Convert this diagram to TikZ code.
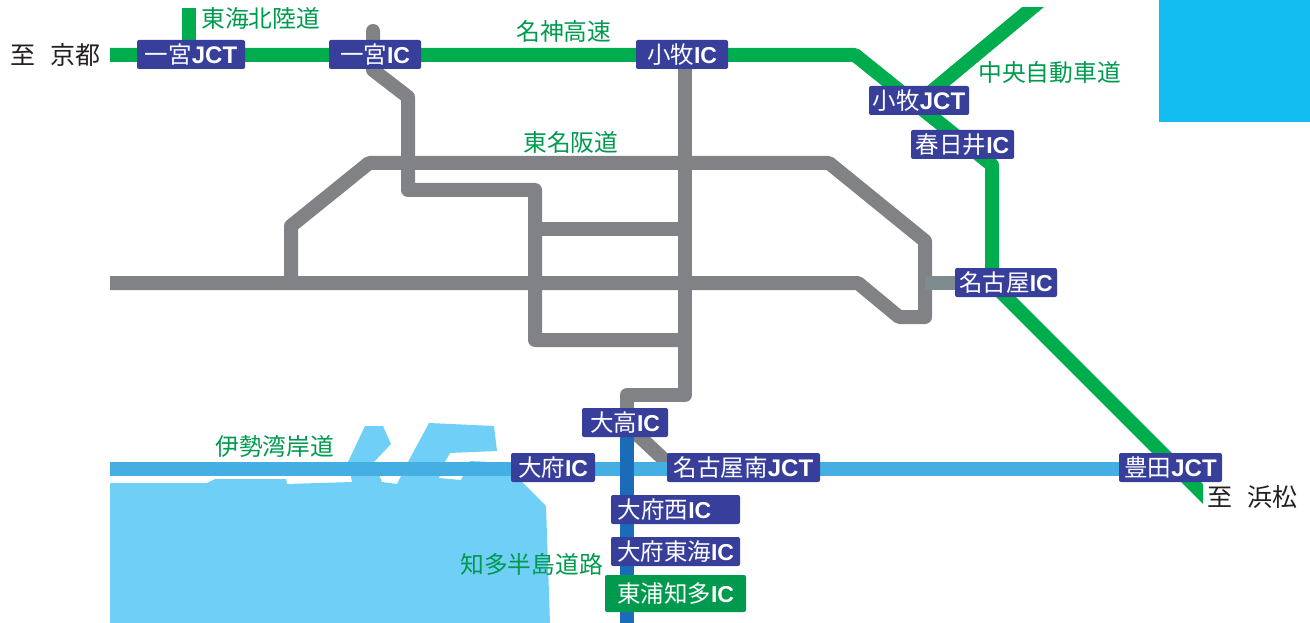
\documentclass[tikz,border=0pt]{standalone}
\usepackage{fontspec}
\setmainfont{Noto Sans CJK JP}
\newfontfamily\latinb{Liberation Sans}[BoldFont={Liberation Sans Bold}]
\newcommand{\LL}[1]{{\latinb\bfseries\fontsize{23}{23}\selectfont #1}}
\newcommand{\JJ}[1]{{\latinb\bfseries\fontsize{24}{24}\selectfont #1}}
\definecolor{roadgreen}{HTML}{00AD4E}
\definecolor{roadgray}{HTML}{808285}
\definecolor{linkgray}{HTML}{7F8C8F}
\definecolor{bayblue}{HTML}{45AEE3}
\definecolor{seablue}{HTML}{6FCFF7}
\definecolor{cornerblue}{HTML}{13BDF2}
\definecolor{chitablue}{HTML}{1B6CB8}
\definecolor{labelblue}{HTML}{373F9B}
\definecolor{labelgreen}{HTML}{009A4E}
\definecolor{placeblack}{HTML}{231F20}
\tikzset{
  x=1pt,y=-1pt,
  road/.style={line width=14pt,line join=round},
  greenroad/.style={road,draw=roadgreen},
  grayroad/.style={road,draw=roadgray},
  iclabel/.style={fill=labelblue,text=white,rounded corners=2pt,inner sep=0pt,
    font=\fontsize{23.5}{23.5}\selectfont,anchor=center,minimum height=29pt},
  endlabel/.style={iclabel,fill=labelgreen,minimum height=37pt},
  roadname/.style={text=labelgreen,inner sep=0pt,anchor=west,font=\fontsize{23.8}{23.8}\selectfont},
  placename/.style={text=placeblack,inner sep=0pt,anchor=west,font=\fontsize{25}{25}\selectfont},
}
\begin{document}
\begin{tikzpicture}
\useasboundingbox (0,0) rectangle (1310,623);
\fill[cornerblue] (1159,0) rectangle (1310,122);
\fill[seablue] (110,483) -- (207,483) -- (215,479) -- (286,479) -- (287,484) -- (352,482) -- (348,462) -- (365,426) -- (383,426) -- (391,444) -- (374,462) -- (382,482) -- (397,484) -- (408,462) -- (429,423) -- (494,426) -- (497,451) -- (450,453) -- (445,462) -- (439,478) -- (461,480) -- (470,461) -- (510,463) -- (522,482) -- (546,506) -- (550,623) -- (110,623) -- cycle;
% road points
\coordinate (kyoto) at (110,55);
\coordinate (gbend) at (855,55);
\coordinate (kasu) at (992,165);
\coordinate (nagc) at (992,283);
\coordinate (hama) at (1216,507);
\coordinate (htop) at (189,8);
\coordinate (hjct) at (189,55);
\coordinate (ctop) at (1041.5,0);
\coordinate (cjct) at (925,97);
\coordinate (ic1a) at (373,31);
\coordinate (ic1b) at (373,70);
\coordinate (ic1c) at (408,97);
\coordinate (ic1d) at (408,190);
\coordinate (ic1e) at (535,190);
\coordinate (ic1f) at (535,340);
\coordinate (v1) at (685,55);
\coordinate (v2) at (685,395);
\coordinate (v3) at (627,395);
\coordinate (v4) at (627,425);
\coordinate (ra) at (291,283);
\coordinate (rb) at (291,226);
\coordinate (rc) at (369,163);
\coordinate (rd) at (829,163);
\coordinate (re) at (925,241);
\coordinate (rf) at (925,317);
\coordinate (rg) at (899,317);
\coordinate (rh) at (858,283);
\coordinate (ri) at (110,283);
\coordinate (xa) at (535,229);
\coordinate (xb) at (685,229);
\coordinate (xc) at (685,340);
\coordinate (la) at (925,283);
\coordinate (lb) at (960,283);
\coordinate (sa) at (627,425);
\coordinate (sb) at (672,467);
\coordinate (ba) at (110,469);
\coordinate (bb) at (1130,469);
\coordinate (da) at (627,430);
\coordinate (db) at (627,623);
% roads
\draw[grayroad,line cap=round] (ic1a) -- (ic1b) -- (ic1c) -- (ic1d) -- (ic1e) -- (ic1f) -- (xc);
\draw[grayroad] (v1) -- (v2) -- (v3) -- (v4);
\draw[grayroad] (ra) -- (rb) -- (rc) -- (rd) -- (re) -- (rf) -- (rg) -- (rh) -- (ri);
\draw[grayroad] (xa) -- (xb);
\draw[road,draw=linkgray] (la) -- (lb);
\draw[grayroad] (sa) -- (sb);
\draw[road,draw=bayblue] (ba) -- (bb);
\draw[road,draw=chitablue] (da) -- (db);
\begin{scope}
\clip (100,8) rectangle (1203,623);
\draw[greenroad] (htop) -- (hjct);
\draw[greenroad] (ctop) -- (cjct);
\draw[greenroad] (kyoto) -- (gbend) -- (kasu) -- (nagc) -- (hama);
\end{scope}
% labels
\node[iclabel,minimum width=108pt] (a1) at (191,54.5) {一宮\JJ{JCT}};
\node[iclabel,minimum width=92pt] (a2) at (375,54.5) {一宮\LL{IC}};
\node[iclabel,minimum width=92pt] (a3) at (682,54.5) {小牧\LL{IC}};
\node[iclabel,minimum width=100pt] (a4) at (919,100.5) {小牧\JJ{JCT}};
\node[iclabel,minimum width=103pt] (a5) at (962.5,144.5) {春日井\LL{IC}};
\node[iclabel,minimum width=102pt] (a6) at (1006,282.5) {名古屋\LL{IC}};
\node[iclabel,minimum width=86pt] (a7) at (625,422.5) {大高\LL{IC}};
\node[iclabel,minimum width=84pt] (a8) at (553,467.5) {大府\LL{IC}};
\node[iclabel,minimum width=153pt] (a9) at (743.5,467.5) {名古屋南\JJ{JCT}};
\node[iclabel,minimum width=103pt] (a10) at (1170.5,467.5) {豊田\JJ{JCT}};
\node[iclabel,minimum width=129pt] (a11) at (675.5,509.5) {大府西\LL{IC}\rule{22pt}{0pt}};
\node[iclabel,minimum width=129pt] (a12) at (675.5,551.5) {大府東海\LL{IC}};
\node[endlabel,minimum width=141pt] (a13) at (675.5,593.5) {東浦知多\LL{IC}};
% names
\node[roadname] (n1) at (201,18) {東海北陸道};
\node[roadname] (n2) at (516,31) {名神高速};
\node[roadname] (n3) at (523,142) {東名阪道};
\node[roadname] (n4) at (978,72) {中央自動車道};
\node[roadname] (n5) at (215,446) {伊勢湾岸道};
\node[roadname] (n6) at (460,564) {知多半島道路};
\node[placename] (p1) at (10,55) {至\hspace{15pt}京都};
\node[placename] (p2) at (1207,497) {至\hspace{15pt}浜松};
\end{tikzpicture}
\end{document}
